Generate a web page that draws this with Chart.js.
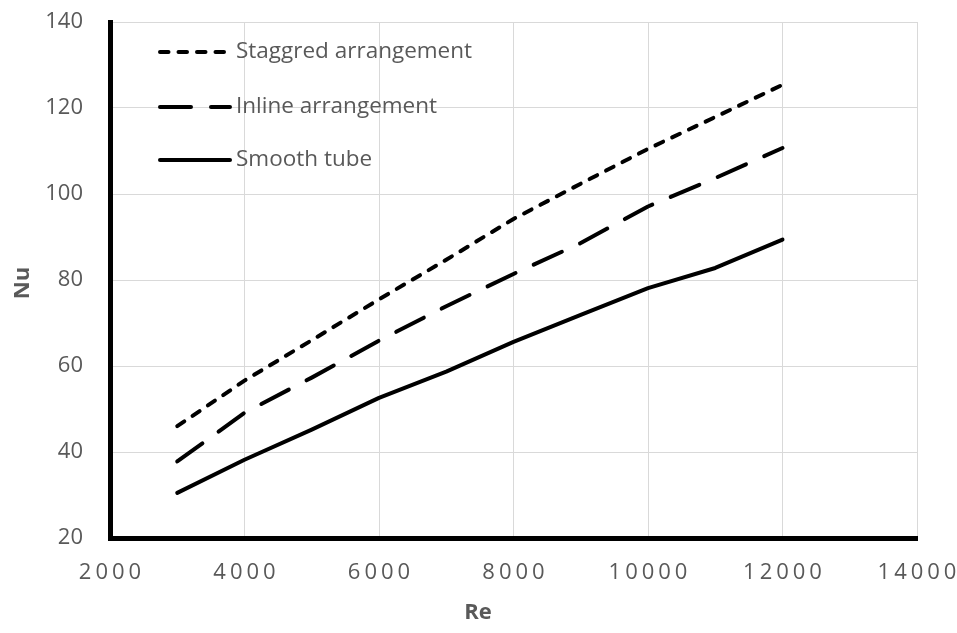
<!DOCTYPE html>
<html>
<head>
<meta charset="utf-8">
<script src="https://cdn.jsdelivr.net/npm/chart.js@4.4.1/dist/chart.umd.min.js"></script>
<style>
  html, body { margin: 0; padding: 0; background: #ffffff; }
  #wrap { width: 957px; height: 633px; }
</style>
</head>
<body>
<div id="wrap"><canvas id="c" width="957" height="633"></canvas></div>
<script>
// Reynolds numbers and Nusselt numbers for the three tube configurations
const reynolds  = [3000, 4000, 5000, 6000, 7000, 8000, 9000, 10000, 11000, 12000];
const staggered = [46.0, 56.6, 66.0, 75.5, 84.7, 94.2, 102.4, 110.5, 117.9, 125.4];
const inline    = [37.8, 49.1, 57.3, 65.9, 73.9, 81.4, 88.6, 97.1, 103.7, 110.7];
const smooth    = [30.5, 38.2, 45.2, 52.6, 58.7, 65.6, 71.9, 78.1, 82.8, 89.4];

const seriesNames = ['Staggred arrangement', 'Inline arrangement', 'Smooth tube'];
const xTitle = 'Re';
const yTitle = 'Nu';

const FONT = "'Open Sans', 'DejaVu Sans', sans-serif";
const GREY = '#595959';

function pts(ys) { return reynolds.map((x, i) => ({ x: x, y: ys[i] })); }

// Vertical legend drawn inside the plot area
const innerLegend = {
  id: 'innerLegend',
  afterDraw(chart) {
    const ctx = chart.ctx;
    const rows = [52, 107, 160];
    chart.data.datasets.forEach((ds, i) => {
      const y = rows[i];
      ctx.save();
      ctx.strokeStyle = ds.borderColor;
      ctx.lineWidth = ds.borderWidth;
      ctx.lineCap = ds.borderCapStyle || 'butt';
      ctx.setLineDash(ds.borderDash || []);
      ctx.beginPath();
      ctx.moveTo(160, y);
      ctx.lineTo(230, y);
      ctx.stroke();
      ctx.setLineDash([]);
      ctx.fillStyle = GREY;
      ctx.font = '22.5px ' + FONT;
      ctx.textAlign = 'left';
      ctx.textBaseline = 'middle';
      ctx.fillText(ds.label, 236, y);
      ctx.restore();
    });
  }
};

// Bold axis titles
const axisTitles = {
  id: 'axisTitles',
  afterDraw(chart) {
    const ctx = chart.ctx;
    const area = chart.chartArea;
    ctx.save();
    ctx.fillStyle = GREY;
    ctx.font = 'bold 22px ' + FONT;
    ctx.textAlign = 'center';
    ctx.textBaseline = 'middle';
    ctx.fillText(xTitle, 478, 613);
    ctx.translate(23, (area.top + area.bottom) / 2 + 3);
    ctx.rotate(-Math.PI / 2);
    ctx.fillText(yTitle, 0, 0);
    ctx.restore();
  }
};

// Wider character spacing for the horizontal tick labels
const spacedTicks = {
  id: 'spacedTicks',
  beforeDraw(chart) {
    const sx = chart.scales.x;
    if (sx && !sx._spaced) {
      const orig = sx.drawLabels;
      sx.drawLabels = function (area) {
        const ctx = this.ctx;
        ctx.save();
        ctx.letterSpacing = '4px';
        ctx.translate(2, 0);
        orig.call(this, area);
        ctx.restore();
      };
      sx._spaced = true;
    }
  }
};

const plainNumber = (v) => String(v);

new Chart(document.getElementById('c'), {
  type: 'line',
  data: {
    datasets: [
      {
        label: seriesNames[0], data: pts(staggered),
        borderColor: '#000000', borderWidth: 4, borderDash: [8.5, 10],
        borderCapStyle: 'round', borderJoinStyle: 'round',
        pointRadius: 0, tension: 0, fill: false
      },
      {
        label: seriesNames[1], data: pts(inline),
        borderColor: '#000000', borderWidth: 4, borderDash: [31, 20],
        borderCapStyle: 'round', borderJoinStyle: 'round',
        pointRadius: 0, tension: 0, fill: false
      },
      {
        label: seriesNames[2], data: pts(smooth),
        borderColor: '#000000', borderWidth: 4,
        borderCapStyle: 'round', borderJoinStyle: 'round',
        pointRadius: 0, tension: 0, fill: false
      }
    ]
  },
  options: {
    responsive: false,
    animation: false,
    layout: { padding: { left: 0, right: 40, top: 22, bottom: 0 } },
    plugins: {
      legend: { display: false },
      tooltip: { enabled: false }
    },
    scales: {
      x: {
        type: 'linear',
        min: 2000, max: 14000,
        ticks: {
          stepSize: 2000, color: GREY, padding: 22,
          font: { family: FONT, size: 22 },
          maxRotation: 0,
          callback: plainNumber
        },
        grid: { color: '#d9d9d9', lineWidth: 1, drawTicks: false },
        border: { color: '#000000', width: 5 },
        afterFit(scale) {
          scale.height = 95;
          scale.paddingLeft = 0;
          scale.paddingRight = 0;
        }
      },
      y: {
        type: 'linear',
        min: 20, max: 140,
        ticks: {
          stepSize: 20, color: GREY, padding: 27,
          font: { family: FONT, size: 22 },
          callback: plainNumber
        },
        grid: { color: '#d9d9d9', lineWidth: 1, drawTicks: false },
        border: { color: '#000000', width: 5 },
        afterFit(scale) {
          scale.width = 110;
          scale.paddingTop = 0;
          scale.paddingBottom = 0;
        }
      }
    }
  },
  plugins: [spacedTicks, innerLegend, axisTitles]
});
</script>
</body>
</html>
